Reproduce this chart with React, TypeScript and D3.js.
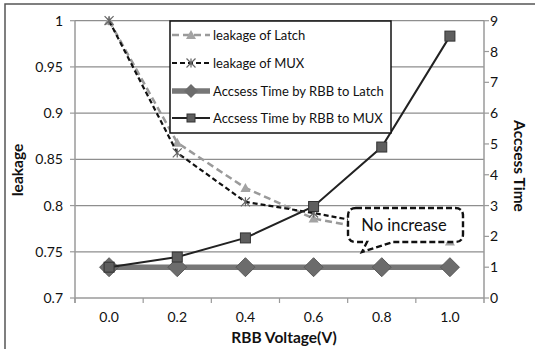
import React from "react";
import * as d3 from "d3";

// data
const voltages = ["0.0", "0.2", "0.4", "0.6", "0.8", "1.0"];
const leakLatch = [1.0, 0.868, 0.819, 0.786, 0.772, 0.761];
const leakMux = [1.0, 0.857, 0.804, 0.792, 0.778, 0.768];
const timeLatch = [1, 1, 1, 1, 1, 1];
const timeMux = [1, 1.33, 1.95, 2.97, 4.9, 8.5];
const leftTicks = [0.7, 0.75, 0.8, 0.85, 0.9, 0.95, 1];
const rightTicks = [0, 1, 2, 3, 4, 5, 6, 7, 8, 9];
const legendLabels = [
  "leakage of Latch",
  "leakage of MUX",
  "Accsess Time by RBB to Latch",
  "Accsess Time by RBB to MUX",
];

const W = 535;
const H = 349;
const plot = { left: 75, right: 484, top: 20.7, bottom: 298 };
const font = "Lato, 'Liberation Sans', Arial, sans-serif";

const x = d3.scaleBand().domain(voltages).range([plot.left, plot.right]);
const cx = (v: string) => (x(v) as number) + x.bandwidth() / 2;
const yL = d3.scaleLinear().domain([0.7, 1]).range([plot.bottom, plot.top]);
const yR = d3.scaleLinear().domain([0, 9]).range([plot.bottom, plot.top]);

const lineL = d3
  .line<number>()
  .x((d, i) => cx(voltages[i]))
  .y((d) => yL(d));
const lineR = d3
  .line<number>()
  .x((d, i) => cx(voltages[i]))
  .y((d) => yR(d));

const tri = (px: number, py: number, s = 5) =>
  `M${px},${py - s}L${px + s},${py + s * 0.8}L${px - s},${py + s * 0.8}Z`;
const diamond = (px: number, py: number, s = 9.5) =>
  `M${px},${py - s}L${px + s},${py}L${px},${py + s}L${px - s},${py}Z`;
const star = (px: number, py: number, s = 4.5) =>
  `M${px - s},${py - s}L${px + s},${py + s}M${px + s},${py - s}L${px - s},${py + s}M${px},${py - s}L${px},${py + s}`;

const Markers = ({ series, kind }: { series: number[]; kind: string }) => (
  <g>
    {series.map((v, i) => {
      const px = cx(voltages[i]);
      if (kind === "tri")
        return <path key={i} d={tri(px, yL(v))} fill="#a3a3a3" />;
      if (kind === "star")
        return (
          <path key={i} d={star(px, yL(v))} stroke="#666" strokeWidth={1.2} fill="none" />
        );
      if (kind === "diamond")
        return (
          <path key={i} d={diamond(px, yR(v))} fill="#6c6c6c" stroke="#5a5a5a" strokeWidth={1} />
        );
      const py = yR(v);
      return (
        <rect key={i} x={px - 5} y={py - 5} width={10} height={10} fill="#5e5e5e" stroke="#333" strokeWidth={1} />
      );
    })}
  </g>
);

export default function App() {
  const legX = 170;
  const legY = 21;
  const rowY = [35, 63, 91, 118];
  return (
    <svg width={W} height={H} style={{ position: "absolute", left: 0, top: 0 }}>
      <rect x={0} y={0} width={W} height={H} fill="#fff" />
      <rect x={5} y={4} width={W + 10} height={H + 10} fill="none" stroke="#555" strokeWidth={1.5} />

      {/* gridlines */}
      {leftTicks.slice(1).map((t) => (
        <line key={t} x1={plot.left} x2={plot.right} y1={yL(t)} y2={yL(t)} stroke="#8e8e8e" strokeWidth={1.2} />
      ))}

      {/* axes */}
      <line x1={plot.left} x2={plot.left} y1={plot.top} y2={plot.bottom + 5} stroke="#9a9a9a" strokeWidth={1.5} />
      <line x1={plot.right} x2={plot.right} y1={plot.top} y2={plot.bottom + 5} stroke="#9a9a9a" strokeWidth={1.5} />
      <line x1={plot.left} x2={plot.right} y1={plot.bottom} y2={plot.bottom} stroke="#9a9a9a" strokeWidth={1.5} />
      {voltages.map((v) => (
        <line key={v} x1={x(v)} x2={x(v)} y1={plot.bottom} y2={plot.bottom + 5} stroke="#9a9a9a" strokeWidth={1.2} />
      ))}
      {leftTicks.map((t) => (
        <g key={t}>
          <line x1={plot.left - 5} x2={plot.left} y1={yL(t)} y2={yL(t)} stroke="#9a9a9a" strokeWidth={1.2} />
          <text x={63} y={yL(t) + 5} textAnchor="end" fontSize={14} fontFamily={font} fill="#111">
            {t}
          </text>
        </g>
      ))}
      {rightTicks.map((t) => (
        <g key={t}>
          <line x1={plot.right} x2={plot.right + 5} y1={yR(t)} y2={yR(t)} stroke="#9a9a9a" strokeWidth={1.2} />
          <text x={490} y={yR(t) + 5} fontSize={14} fontFamily={font} fill="#111">
            {t}
          </text>
        </g>
      ))}
      {voltages.map((v) => (
        <text key={v} x={cx(v)} y={322} textAnchor="middle" fontSize={14} fontFamily={font} fill="#111">
          {v}
        </text>
      ))}

      {/* axis titles */}
      <text x={284} y={343} textAnchor="middle" fontSize={15.5} fontWeight="bold" fontFamily={font} fill="#111">
        RBB Voltage(V)
      </text>
      <text transform="translate(23,170) rotate(-90)" textAnchor="middle" fontSize={15.5} fontWeight="bold" fontFamily={font} fill="#111">
        leakage
      </text>
      <text transform="translate(514,166) rotate(90)" textAnchor="middle" fontSize={15.5} fontWeight="bold" fontFamily={font} fill="#111">
        Accsess Time
      </text>

      {/* series */}
      <path d={lineR(timeLatch) as string} fill="none" stroke="#777" strokeWidth={5.5} />
      <Markers series={timeLatch} kind="diamond" />
      <path d={lineL(leakLatch) as string} fill="none" stroke="#9a9a9a" strokeWidth={2.5} strokeDasharray="7,4" />
      <Markers series={leakLatch} kind="tri" />
      <path d={lineL(leakMux) as string} fill="none" stroke="#111" strokeWidth={2.2} strokeDasharray="5,3" />
      <Markers series={leakMux} kind="star" />
      <path d={lineR(timeMux) as string} fill="none" stroke="#222" strokeWidth={2} />
      <Markers series={timeMux} kind="square" />

      {/* callout */}
      <path
        d="M356,208 H455 Q463,208 463,216 V234 Q463,242 455,242 H393 L362,252 L367,242 H356 Q348,242 348,234 V216 Q348,208 356,208 Z"
        fill="#fff"
        stroke="#111"
        strokeWidth={2.4}
        strokeDasharray="6,3"
      />
      <text x={404} y={231} textAnchor="middle" fontSize={16.5} fontFamily={font} fill="#111">
        No increase
      </text>

      {/* legend */}
      <rect x={legX} y={legY} width={221} height={112} fill="#fff" stroke="#111" strokeWidth={1.5} />
      <line x1={172} x2={210} y1={rowY[0]} y2={rowY[0]} stroke="#9a9a9a" strokeWidth={2.5} strokeDasharray="7,4" />
      <path d={tri(191, rowY[0])} fill="#a3a3a3" />
      <line x1={172} x2={210} y1={rowY[1]} y2={rowY[1]} stroke="#111" strokeWidth={2.2} strokeDasharray="5,3" />
      <path d={star(191, rowY[1])} stroke="#666" strokeWidth={1.2} fill="none" />
      <line x1={172} x2={210} y1={rowY[2]} y2={rowY[2]} stroke="#777" strokeWidth={5.5} />
      <path d={diamond(191, rowY[2], 7)} fill="#6c6c6c" />
      <line x1={172} x2={210} y1={rowY[3]} y2={rowY[3]} stroke="#222" strokeWidth={2} />
      <rect x={187} y={rowY[3] - 4} width={8} height={8} fill="#5e5e5e" stroke="#333" />
      {legendLabels.map((l, i) => (
        <text key={l} x={213} y={rowY[i] + 4.5} fontSize={13} fontFamily={font} fill="#111">
          {l}
        </text>
      ))}
    </svg>
  );
}
